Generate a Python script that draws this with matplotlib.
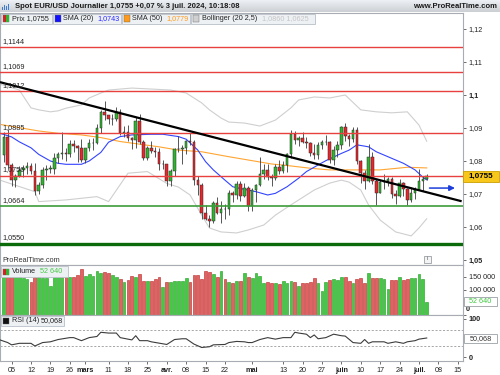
import matplotlib
matplotlib.use("Agg")
import matplotlib.pyplot as plt
import numpy as np
import pandas as pd
from matplotlib.patches import Rectangle

plt.rcParams['font.family'] = ['Liberation Sans', 'DejaVu Sans']

# ---------------- data ----------------
dates = pd.bdate_range('2024-02-01', '2024-07-03')

opens = [1.0818,1.0873,1.0788,1.0743,1.0755,1.0773,1.0779,1.0784,1.0771,1.0708,1.0727,1.0772,1.0777,1.0777,1.0808,1.0822,1.0823,1.0821,1.0851,1.0844,1.0838,
         1.0804,1.0838,1.0855,1.0856,1.0899,1.0947,1.0938,1.0926,1.0927,1.0948,1.0884,1.0889,1.0870,1.0865,1.0922,1.0859,1.0808,1.0838,1.0831,1.0826,1.0790,
         1.0790,1.0740,1.0770,1.0835,1.0837,1.0838,1.0860,1.0857,1.0742,1.0727,1.0642,1.0624,1.0619,1.0672,1.0643,1.0656,1.0655,1.0703,1.0697,1.0730,1.0693,1.0719,
         1.0665,1.0713,1.0727,1.0761,1.0772,1.0753,1.0749,1.0783,1.0771,1.0789,1.0821,1.0883,1.0865,1.0870,1.0857,1.0854,1.0823,1.0818,1.0847,1.0857,1.0858,1.0802,1.0834,
         1.0848,1.0903,1.0875,1.0868,1.0893,1.0801,1.0763,1.0740,1.0813,1.0740,1.0703,1.0737,1.0739,1.0745,1.0700,1.0693,1.0733,1.0714,1.0682,1.0703,
         1.0713,1.0738,1.0745]
highs = [1.0889,1.0897,1.0794,1.0762,1.0786,1.0789,1.0797,1.0794,1.0795,1.0736,1.0781,1.0788,1.0787,1.0825,1.0827,1.0888,1.0838,1.0865,1.0863,1.0849,1.0868,
         1.0838,1.0867,1.0871,1.0912,1.0956,1.0981,1.0940,1.0943,1.0963,1.0957,1.0905,1.0908,1.0872,1.0932,1.0942,1.0863,1.0845,1.0862,1.0841,1.0838,1.0803,
         1.0791,1.0775,1.0838,1.0877,1.0848,1.0865,1.0885,1.0865,1.0756,1.0733,1.0667,1.0637,1.0680,1.0690,1.0678,1.0671,1.0713,1.0710,1.0740,1.0738,1.0733,1.0725,
         1.0718,1.0729,1.0812,1.0790,1.0790,1.0760,1.0791,1.0804,1.0801,1.0825,1.0895,1.0890,1.0876,1.0889,1.0873,1.0859,1.0852,1.0858,1.0864,1.0880,1.0862,1.0845,1.0862,
         1.0907,1.0916,1.0883,1.0902,1.0902,1.0803,1.0774,1.0852,1.0827,1.0746,1.0741,1.0762,1.0753,1.0750,1.0711,1.0745,1.0737,1.0717,1.0720,1.0720,
         1.0777,1.0755,1.0762]
lows = [1.0796,1.0779,1.0723,1.0722,1.0750,1.0752,1.0762,1.0762,1.0696,1.0701,1.0717,1.0743,1.0763,1.0762,1.0794,1.0806,1.0801,1.0812,1.0828,1.0797,1.0796,
        1.0794,1.0829,1.0834,1.0850,1.0885,1.0925,1.0911,1.0908,1.0920,1.0878,1.0874,1.0860,1.0836,1.0838,1.0852,1.0802,1.0803,1.0825,1.0813,1.0774,1.0775,
        1.0725,1.0724,1.0754,1.0826,1.0792,1.0820,1.0849,1.0727,1.0696,1.0623,1.0622,1.0601,1.0613,1.0639,1.0611,1.0624,1.0636,1.0677,1.0684,1.0679,1.0692,1.0650,
        1.0649,1.0675,1.0724,1.0746,1.0742,1.0724,1.0743,1.0762,1.0764,1.0766,1.0810,1.0850,1.0845,1.0854,1.0838,1.0816,1.0806,1.0805,1.0835,1.0849,1.0794,1.0788,1.0812,
        1.0836,1.0861,1.0845,1.0858,1.0790,1.0732,1.0714,1.0735,1.0730,1.0668,1.0703,1.0714,1.0725,1.0688,1.0671,1.0690,1.0693,1.0666,1.0676,1.0686,
        1.0711,1.0710,1.0741]
closes = [1.0873,1.0788,1.0743,1.0755,1.0773,1.0779,1.0784,1.0771,1.0708,1.0727,1.0772,1.0777,1.0777,1.0808,1.0822,1.0823,1.0821,1.0851,1.0844,1.0838,1.0804,
          1.0838,1.0855,1.0856,1.0899,1.0947,1.0938,1.0926,1.0927,1.0948,1.0884,1.0889,1.0870,1.0865,1.0922,1.0859,1.0808,1.0838,1.0831,1.0826,1.0790,1.0790,
          1.0740,1.0770,1.0835,1.0837,1.0838,1.0860,1.0857,1.0742,1.0727,1.0642,1.0624,1.0619,1.0672,1.0643,1.0656,1.0655,1.0703,1.0697,1.0730,1.0693,1.0719,1.0665,
          1.0713,1.0727,1.0761,1.0772,1.0753,1.0749,1.0783,1.0771,1.0789,1.0821,1.0883,1.0865,1.0870,1.0857,1.0854,1.0823,1.0818,1.0847,1.0857,1.0858,1.0802,1.0834,1.0848,
          1.0903,1.0875,1.0868,1.0893,1.0801,1.0763,1.0740,1.0813,1.0740,1.0703,1.0737,1.0739,1.0745,1.0700,1.0693,1.0733,1.0714,1.0682,1.0703,1.0713,
          1.0738,1.0745,1.0755]
volumes = [151000,151000,151000,151000,151000,144000,140000,131000,148000,151000,144000,144000,114000,151000,151000,151000,151000,151000,151000,156000,180000,
           155000,161000,155000,173000,167000,168000,167000,157000,148000,140000,129000,138000,152000,148000,161000,135000,135000,135000,140000,148000,109000,
           131000,131000,135000,135000,135000,147000,131000,157000,157000,142000,173000,168000,160000,148000,172000,140000,131000,127000,135000,135000,167000,151000,
           144000,164000,155000,125000,131000,125000,125000,122000,135000,125000,135000,129000,114000,125000,125000,129000,144000,125000,96000,131000,138000,142000,138000,
           148000,148000,135000,125000,140000,144000,125000,164000,144000,144000,144000,140000,101000,138000,138000,148000,138000,140000,144000,144000,
           161000,142000,52640]

# indicators (trading-day index, value)
sma20_idx = [-1,2,4,7,9,12,14,16,20,22,25,27,30,33,38,41,45,47,50,52,54,57,59,62,65,68,70,73,76,78,81,83,87,89,91,94,96,100,103,106,108,109]
sma20_val = [1.0884,1.0873,1.0858,1.0840,1.0820,1.0800,1.0793,1.0790,1.0790,1.0800,1.0826,1.0857,1.0874,1.0879,1.0881,1.0881,1.0874,1.0866,1.0833,1.0798,1.0773,
             1.0742,1.0722,1.0714,1.0707,1.0697,1.0702,1.0722,1.0748,1.0768,1.0788,1.0801,1.0823,1.0833,1.0849,1.0843,1.0828,1.0808,1.0793,1.0773,1.0751,1.0743]
sma50_idx = [-1,4,9,14,20,25,30,35,40,45,51,58,63,69,74,79,84,89,97,104,109]
sma50_val = [1.0911,1.0901,1.0891,1.0884,1.0879,1.0871,1.0859,1.0851,1.0843,1.0833,1.0828,1.0813,1.0803,1.0791,1.0785,1.0778,1.0773,1.0773,1.0773,1.0781,1.0779]
bb_up_idx = [-1,4,7,9,12,14,16,20,22,25,27,33,38,43,47,51,53,56,58,62,66,70,74,76,80,84,88,92,96,100,104,107,109]
bb_up_val = [1.1033,1.1015,1.0961,1.0955,1.0949,1.0952,1.0960,1.0970,1.0991,1.1006,1.1015,1.1021,1.1018,1.1015,1.1006,1.0976,1.0955,1.0930,1.0918,1.0915,1.0906,
             1.0924,1.0961,1.0985,1.0994,1.0991,1.1000,1.0955,1.0949,1.0946,1.0949,1.0909,1.0860]
bb_lo_idx = [-1,8,9,16,24,27,32,37,42,45,48,51,53,56,60,63,67,70,74,76,80,84,87,89,92,94,97,101,105,107,109]
bb_lo_val = [1.0742,1.0707,1.0677,1.0682,1.0692,1.0677,1.0763,1.0768,1.0732,1.0721,1.0697,1.0636,1.0597,1.0585,1.0582,1.0591,1.0606,1.0636,1.0667,1.0682,1.0712,
             1.0733,1.0742,1.0736,1.0712,1.0667,1.0621,1.0585,1.0573,1.0597,1.0625]
rsi_idx = [-1,1,2,4,7,8,10,12,14,17,18,20,22,24,25,27,29,30,33,34,35,37,38,42,44,46,47,49,51,53,54,57,58,60,62,63,64,66,68,70,72,74,75,76,78,79,80,81,83,85,87,88,90,
           92,93,94,95,98,99,101,103,104,106,107,109]
rsi_val = [45,38,32,36,36,29,38,40,46,51,51,43,51,54,65,63,63,51,45,56,43,43,40,33,46,48,48,34,25,27,32,33,38,41,40,38,38,46,51,47,51,51,65,63,60,51,58,48,51,
           60,56,55,38,36,46,36,40,40,36,40,36,40,43,47,50]

levels = [1.1144, 1.1069, 1.1012, 1.0885, 1.0756, 1.0664, 1.0550]
level_labels = ['1,1144', '1,1069', '1,1012', '1,0885', '1,0756', '1,0664', '1,0550']
level_colors = ['#e8403f', '#e8403f', '#e8403f', '#e8403f', '#e8403f', '#3c9c3c', '#0b6b0b']
level_widths = [1.0, 1.0, 1.0, 1.0, 1.0, 1.2, 2.4]

trend_idx = [-1, 118]
trend_price = [1.1039, 1.0678]
arrow_idx = [109, 117]
arrow_price = 1.0718

tick_dates = ['2024-02-05','2024-02-12','2024-02-19','2024-02-26','2024-03-01','2024-03-11','2024-03-18','2024-03-25',
              '2024-04-01','2024-04-08','2024-04-15','2024-04-22','2024-05-01','2024-05-13','2024-05-20','2024-05-27',
              '2024-06-03','2024-06-10','2024-06-17','2024-06-24','2024-07-01','2024-07-08','2024-07-15']
tick_labels = ['05','12','19','26','mars','11','18','25','avr.','08','15','22','mai','13','20','27','juin','10','17','24','juil.','08','15']
month_labels = {'mars', 'avr.', 'mai', 'juin', 'juil.'}

# ---------------- layout helpers ----------------
W, H = 500, 375
fig = plt.figure(figsize=(5, 3.75), dpi=100)
fig.patch.set_facecolor('white')

def fx(px):
    return px / W

def fy(py):
    return 1 - py / H

ext_dates = pd.bdate_range('2024-02-01', '2024-07-19')
tick_pos = [ext_dates.get_loc(pd.Timestamp(d)) for d in tick_dates]
idx = np.arange(len(dates))
XL, XR = -0.985, 118.35
AX_W = fx(463)
SP = '#a7adb3'
LAB = '#222222'
FS = 5.2

def style_axes(ax):
    ax.set_xlim(XL, XR)
    ax.set_facecolor('white')
    for s in ax.spines.values():
        s.set_color(SP)
        s.set_linewidth(0.8)
    ax.tick_params(axis='y', left=False, right=True, labelleft=False, labelright=True,
                   length=2.5, width=0.6, color='#555555', labelsize=FS, pad=1.5, labelcolor=LAB)
    ax.tick_params(axis='x', bottom=False, labelbottom=False)

# ---------------- main price panel ----------------
ax = fig.add_axes([0, fy(265), AX_W, (265 - 13) / H])
style_axes(ax)
ax.set_ylim(1.048485, 1.124848)
yt = [1.05, 1.06, 1.07, 1.08, 1.09, 1.10, 1.11, 1.12]
ax.set_yticks(yt)
ax.set_yticklabels(['1,05', '1,06', '1,07', '1,08', '1,09', '1,1', '1,11', '1,12'])
for t, v in zip(ax.get_yticklabels(), yt):
    if v in (1.05, 1.10):
        t.set_fontweight('bold')

ax.plot(bb_up_idx, bb_up_val, color='#cfcfcf', lw=0.8, zorder=1)
ax.plot(bb_lo_idx, bb_lo_val, color='#cfcfcf', lw=0.8, zorder=1)
ax.plot(sma50_idx, sma50_val, color='#ffa532', lw=0.8, zorder=2)
ax.plot(sma20_idx, sma20_val, color='#3344ff', lw=0.8, zorder=2)

for i in idx:
    o, h, l, c = opens[i], highs[i], lows[i], closes[i]
    ax.vlines(i, l, h, color='#3a3a3a', lw=0.6, zorder=3)
    up = c >= o
    ax.add_patch(Rectangle((i - 0.33, min(o, c)), 0.66, max(abs(c - o), 0.00008),
                           facecolor='#2fb52f' if up else '#e8262b', edgecolor='#2a2a2a',
                           lw=0.35, zorder=4))

for lv, lab, col, lw in zip(levels, level_labels, level_colors, level_widths):
    ax.axhline(lv, color=col, lw=lw, zorder=5)
    ax.text(fx(2) / AX_W, lv + 0.0006, lab, transform=ax.get_yaxis_transform(), fontsize=FS,
            color=LAB, ha='left', va='bottom', zorder=7)

ax.plot(trend_idx, trend_price, color='black', lw=1.6, zorder=6, solid_capstyle='butt')
ax.annotate('', xy=(arrow_idx[1], arrow_price), xytext=(arrow_idx[0], arrow_price),
            arrowprops=dict(arrowstyle='-|>', color='#1c3ddb', lw=1.1, mutation_scale=8), zorder=6)

# ---------------- volume panel ----------------
axv = fig.add_axes([0, fy(315), AX_W, 50 / H])
style_axes(axv)
axv.set_ylim(0, 196800)
axv.set_yticks([0, 100000, 150000])
axv.set_yticklabels(['', '100 000', '150 000'])
vcol = ['#44c944' if closes[i] >= opens[i] else '#e06262' for i in idx]
vedge = ['#1f9a1f' if closes[i] >= opens[i] else '#b82424' for i in idx]
axv.bar(idx, volumes, width=0.72, color=vcol, edgecolor=vedge, lw=0.4, zorder=2)
fig.text(fx(466), fy(309.5), '0', fontsize=FS, fontweight='bold', color=LAB, va='center', ha='left')

# ---------------- RSI panel ----------------
axr = fig.add_axes([0, fy(361), AX_W, 46 / H])
style_axes(axr)
axr.set_ylim(-10.5, 110.5)
axr.set_yticks([0, 100])
axr.set_yticklabels(['0', '100'])
for t in axr.get_yticklabels():
    t.set_fontweight('bold')
for lv in (30, 70):
    axr.axhline(lv, color='#9a9a9a', lw=0.6, ls=(0, (2.5, 2)), zorder=1)
axr.plot(rsi_idx, rsi_val, color='#3c3c3c', lw=0.8, zorder=3)
axr.tick_params(axis='x', bottom=True, labelbottom=True, length=2.5, width=0.6, color='#555555',
                labelsize=FS, pad=2, labelcolor=LAB)
axr.set_xticks(tick_pos)
axr.set_xticklabels(tick_labels)
for t in axr.get_xticklabels():
    if t.get_text() in month_labels:
        t.set_fontweight('bold')

# ---------------- title bar ----------------
axt = fig.add_axes([0, fy(12), 1, 12 / H])
grad = np.linspace(0.93, 0.80, 20).reshape(-1, 1)
axt.imshow(np.dstack([grad, grad + 0.015, grad + 0.03]).clip(0, 1), aspect='auto',
           extent=[0, 1, 0, 1])
axt.set_axis_off()
for k, hh in enumerate([0.35, 0.6, 0.45, 0.8]):
    fig.patches.append(Rectangle((fx(2 + 2 * k), fy(10)), fx(1.2), hh * 8 / H,
                                 transform=fig.transFigure, facecolor='#3a7bd5', edgecolor='none'))
fig.text(fx(15), fy(6.5), 'Spot EUR/USD Journalier 1,0755 +0,07 % 3 juil. 2024, 10:18:08',
         fontsize=5.5, fontweight='bold', color='#1a1a1a', va='center', ha='left')
fig.text(fx(497), fy(6.5), 'www.ProRealTime.com', fontsize=5.5, fontweight='bold',
         color='#1a1a1a', va='center', ha='right')

# ---------------- legends ----------------
def box(x0, x1, y0, y1, fc='#eef1f4', ec='#b9c0c7'):
    fig.patches.append(Rectangle((fx(x0), fy(y1)), fx(x1 - x0), (y1 - y0) / H,
                                 transform=fig.transFigure, facecolor=fc, edgecolor=ec, lw=0.6, zorder=10))

def sq(x0, yc, fc, fc2=None):
    fig.patches.append(Rectangle((fx(x0), fy(yc + 3)), fx(6), 6 / H, transform=fig.transFigure,
                                 facecolor=fc, edgecolor='#666666', lw=0.3, zorder=11))
    if fc2:
        fig.patches.append(Rectangle((fx(x0 + 3), fy(yc + 3)), fx(3), 6 / H, transform=fig.transFigure,
                                     facecolor=fc2, edgecolor='none', zorder=12))

def txt(x0, yc, s, col=LAB, bold=False):
    fig.text(fx(x0), fy(yc), s, fontsize=FS, color=col, va='center', ha='left',
             fontweight='bold' if bold else 'normal', zorder=13)

yc = 18.5
box(1, 52, 13.5, 23.5); sq(3, yc, '#d42020', '#2fb52f'); txt(12, yc, 'Prix 1,0755')
box(53, 121, 13.5, 23.5); sq(55, yc, '#1010ff'); txt(63, yc, 'SMA (20)'); txt(97, yc, '1,0743', '#2a2aff')
box(122, 190, 13.5, 23.5); sq(124, yc, '#ff9a1a'); txt(132, yc, 'SMA (50)'); txt(166, yc, '1,0779', '#ff9a1a')
box(191, 315, 13.5, 23.5); sq(193, yc, '#d0d0d0'); txt(202, yc, 'Bollinger (20 2,5)'); txt(262, yc, '1,0860 1,0625', '#c4c4c4')

box(1, 68, 266, 277); sq(3, 271.5, '#d42020', '#2fb52f'); txt(12, 271.5, 'Volume'); txt(40, 271.5, '52 640', '#44c944')
box(1, 64, 316, 326); sq(3, 321, '#111111'); txt(12, 321, 'RSI (14)'); txt(41, 321, '50,068')

fig.text(fx(2), fy(261), 'ProRealTime.com', fontsize=FS, color='#333333', va='center', ha='left')
box(424, 431, 255.5, 262.5, fc='#f4f4f4', ec='#9aa0a6')
fig.text(fx(427.5), fy(259), 'i', fontsize=4.5, color='#666666', va='center', ha='center', zorder=13)

# right-side value boxes
box(463, 499, 170.5, 182, fc='#f7c81b', ec='#c9a000')
fig.text(fx(481), fy(176.3), '1,0755', fontsize=5.8, fontweight='bold', color='black', va='center', ha='center', zorder=13)
box(464, 497, 297, 305.5, fc='white', ec='#9aa0a6')
fig.text(fx(480.5), fy(301.3), '52 640', fontsize=FS, color='#3cc83c', va='center', ha='center', zorder=13)
box(464, 497, 334, 342.5, fc='white', ec='#9aa0a6')
fig.text(fx(480.5), fy(338.3), '50,068', fontsize=FS, color='#333333', va='center', ha='center', zorder=13)

fig.savefig('out.png', dpi=100, facecolor='white')
